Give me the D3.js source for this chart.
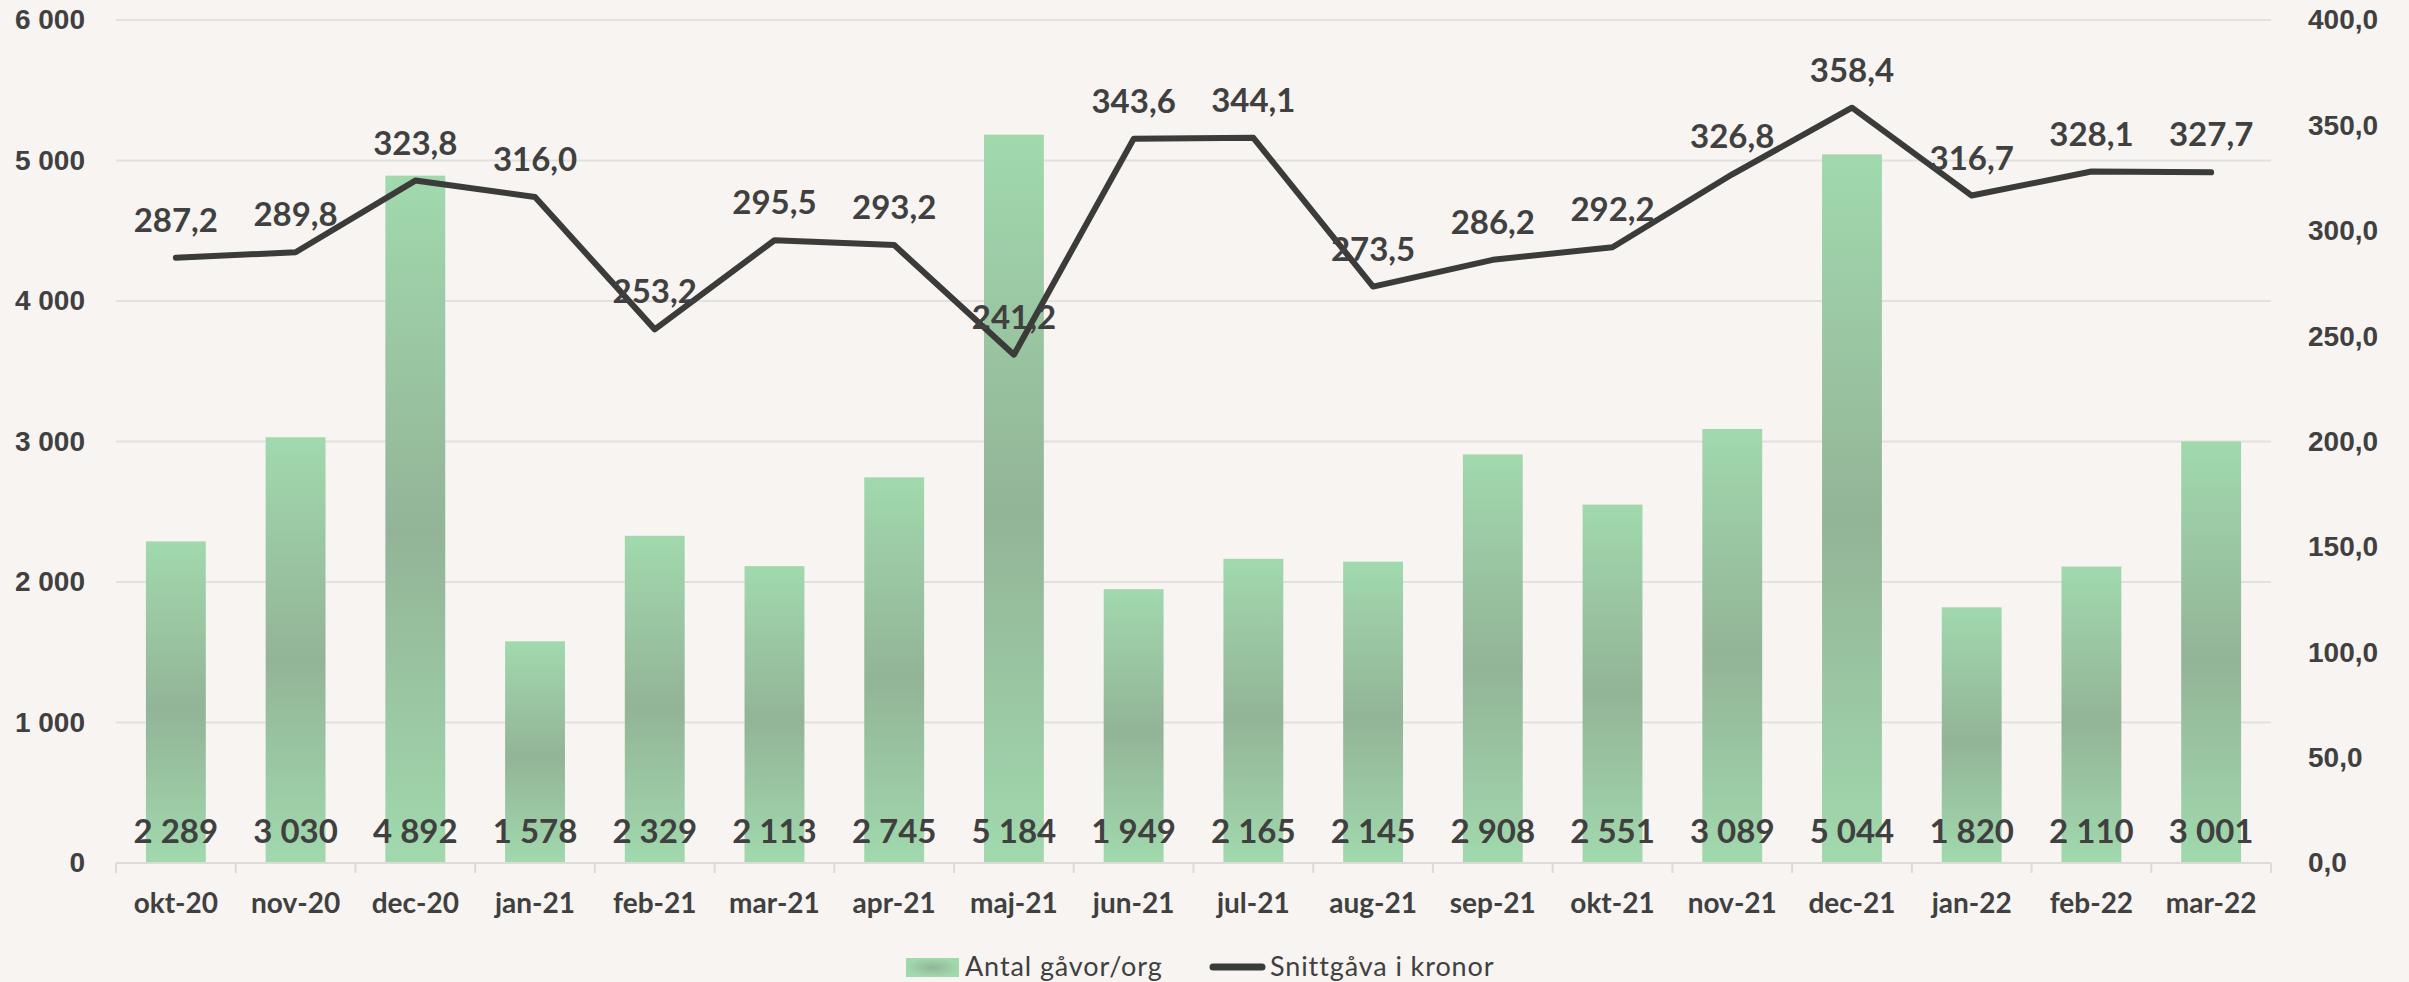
<!DOCTYPE html>
<html>
<head>
<meta charset="utf-8">
<script src="https://cdn.jsdelivr.net/npm/d3@7"></script>
<style>
  html, body { margin: 0; padding: 0; background: #f7f4f1; }
  svg { display: block; font-family: Lato, "Open Sans", sans-serif; }
</style>
</head>
<body>
<div id="chart-area"></div>
<script>
// Data ---------------------------------------------------
const months = ["okt-20", "nov-20", "dec-20", "jan-21", "feb-21", "mar-21", "apr-21", "maj-21", "jun-21",
  "jul-21", "aug-21", "sep-21", "okt-21", "nov-21", "dec-21", "jan-22", "feb-22", "mar-22"]
const gifts = [2289, 3030, 4892, 1578, 2329, 2113, 2745, 5184, 1949, 2165, 2145, 2908, 2551, 3089, 5044, 1820, 2110, 3001]
const avgGift = [287.2, 289.8, 323.8, 316.0, 253.2, 295.5, 293.2, 241.2, 343.6, 344.1, 273.5, 286.2, 292.2, 326.8, 358.4, 316.7, 328.1, 327.7]
const leftTicks = [0, 1000, 2000, 3000, 4000, 5000, 6000]
const rightTicks = [0, 50, 100, 150, 200, 250, 300, 350, 400]
const seriesNames = ["Antal gåvor/org", "Snittgåva i kronor"]

// Canvas setup -----------------------------------------
const W = 2409, H = 982
const MARGIN = {LEFT: 116, RIGHT: 138, TOP: 20, BOTTOM: 119}
const WIDTH = W - MARGIN.LEFT - MARGIN.RIGHT
const HEIGHT = H - MARGIN.TOP - MARGIN.BOTTOM
const TEXT = "#404040"

const svg = d3.select("#chart-area").append("svg")
  .attr("width", W)
  .attr("height", H)

svg.append("rect").attr("width", W).attr("height", H).attr("fill", "#f7f4f1")

const defs = svg.append("defs")
const grad = defs.append("linearGradient")
  .attr("id", "barGrad")
  .attr("x1", 0).attr("y1", 0).attr("x2", 0).attr("y2", 1)
grad.append("stop").attr("offset", "0%").attr("stop-color", "#a1d9ad")
grad.append("stop").attr("offset", "52%").attr("stop-color", "#93b497")
grad.append("stop").attr("offset", "100%").attr("stop-color", "#a1d9ad")

const swatchGrad = defs.append("radialGradient")
  .attr("id", "swatchGrad")
  .attr("cx", 0.5).attr("cy", 0.5).attr("r", 0.5)
swatchGrad.append("stop").attr("offset", "0%").attr("stop-color", "#93b497")
swatchGrad.append("stop").attr("offset", "100%").attr("stop-color", "#a1d9ad")

const g = svg.append("g")
  .attr("transform", `translate(${MARGIN.LEFT}, ${MARGIN.TOP})`)

// Scales ---------------------------------------------------
const xScale = d3.scaleBand()
  .domain(months)
  .range([0, WIDTH])
  .paddingInner(0.5)
  .paddingOuter(0.25)

const yLeft = d3.scaleLinear().domain([0, 6000]).range([HEIGHT, 0])
const yRight = d3.scaleLinear().domain([0, 400]).range([HEIGHT, 0])

const fmtInt = d => d3.format(",")(d).replace(/,/g, " ")
const fmtDec = d => d3.format(".1f")(d).replace(".", ",")

// Grid lines
g.selectAll(".grid")
  .data(leftTicks.filter(d => d > 0))
  .enter().append("line")
  .attr("x1", 0).attr("x2", WIDTH)
  .attr("y1", d => yLeft(d)).attr("y2", d => yLeft(d))
  .attr("stroke", "#e2e1dd")
  .attr("stroke-width", 2)

// Left axis
const leftAxis = g.append("g")
  .call(d3.axisLeft(yLeft).tickValues(leftTicks).tickFormat(fmtInt).tickSize(0).tickPadding(31))
leftAxis.select(".domain").remove()
leftAxis.selectAll("text")
  .attr("fill", TEXT).attr("font-size", "28px").attr("font-weight", "bold")

// Right axis
const rightAxis = g.append("g")
  .attr("transform", `translate(${WIDTH}, 0)`)
  .call(d3.axisRight(yRight).tickValues(rightTicks).tickFormat(fmtDec).tickSize(0).tickPadding(37))
rightAxis.select(".domain").remove()
rightAxis.selectAll("text")
  .attr("fill", TEXT).attr("font-size", "28px").attr("font-weight", "bold")

// Bars
g.selectAll(".bar")
  .data(gifts)
  .enter().append("rect")
  .attr("class", "bar")
  .attr("x", (d, i) => xScale(months[i]))
  .attr("y", d => yLeft(d))
  .attr("width", xScale.bandwidth())
  .attr("height", d => HEIGHT - yLeft(d))
  .attr("fill", "url(#barGrad)")

// Bottom axis
const step = xScale.step()
g.append("line")
  .attr("x1", 0).attr("x2", WIDTH)
  .attr("y1", HEIGHT).attr("y2", HEIGHT)
  .attr("stroke", "#dcdbd7").attr("stroke-width", 2)
g.selectAll(".xtick")
  .data(d3.range(months.length + 1))
  .enter().append("line")
  .attr("x1", i => i * step).attr("x2", i => i * step)
  .attr("y1", HEIGHT).attr("y2", HEIGHT + 10)
  .attr("stroke", "#dcdbd7").attr("stroke-width", 2)
g.selectAll(".xlabel")
  .data(months)
  .enter().append("text")
  .attr("x", d => xScale(d) + xScale.bandwidth() / 2)
  .attr("y", HEIGHT + 50)
  .attr("text-anchor", "middle")
  .attr("fill", TEXT).attr("font-size", "28px").attr("font-weight", "bold")
  .text(d => d)

// Bar labels (inside base)
g.selectAll(".barlabel")
  .data(gifts)
  .enter().append("text")
  .attr("x", (d, i) => xScale(months[i]) + xScale.bandwidth() / 2)
  .attr("y", HEIGHT - 20)
  .attr("text-anchor", "middle")
  .attr("fill", TEXT).attr("font-size", "33px").attr("font-weight", "bold")
  .text(d => fmtInt(d))

// Line
const line = d3.line()
  .x((d, i) => xScale(months[i]) + xScale.bandwidth() / 2)
  .y(d => yRight(d))

g.append("path")
  .datum(avgGift)
  .attr("d", line)
  .attr("fill", "none")
  .attr("stroke", "#3b3b39")
  .attr("stroke-width", 6)
  .attr("stroke-linejoin", "round")
  .attr("stroke-linecap", "round")

g.selectAll(".linelabel")
  .data(avgGift)
  .enter().append("text")
  .attr("x", (d, i) => xScale(months[i]) + xScale.bandwidth() / 2)
  .attr("y", d => yRight(d) - 26)
  .attr("text-anchor", "middle")
  .attr("fill", TEXT).attr("font-size", "33px").attr("font-weight", "bold")
  .text(d => fmtDec(d))

// Legend
const legend = svg.append("g")
legend.append("rect")
  .attr("x", 906).attr("y", 958).attr("width", 53).attr("height", 19)
  .attr("fill", "url(#swatchGrad)")
legend.append("text")
  .attr("x", 965).attr("y", 976)
  .attr("fill", TEXT).attr("font-size", "27px").attr("letter-spacing", "0.9px")
  .text(seriesNames[0])
legend.append("line")
  .attr("x1", 1213).attr("x2", 1262).attr("y1", 967).attr("y2", 967)
  .attr("stroke", "#3b3b39").attr("stroke-width", 7).attr("stroke-linecap", "round")
legend.append("text")
  .attr("x", 1270).attr("y", 976)
  .attr("fill", TEXT).attr("font-size", "27px").attr("letter-spacing", "0.9px")
  .text(seriesNames[1])
</script>
</body>
</html>
